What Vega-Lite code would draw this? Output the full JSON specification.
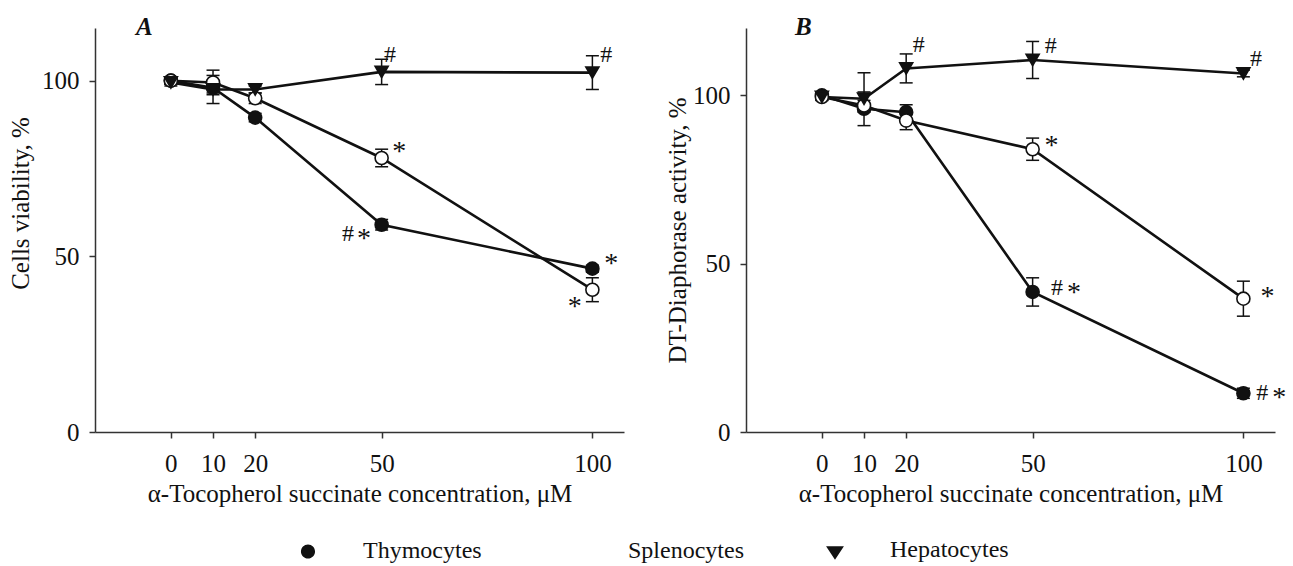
{
  "$schema": "https://vega.github.io/schema/vega-lite/v6.json",
  "padding": {"left": 8, "top": 15, "right": 5, "bottom": 0},
  "background": "white",
  "config": {
    "font": "Liberation Serif",
    "view": {"stroke": null},
    "axis": {
      "grid": false,
      "domainColor": "#333",
      "domainWidth": 1.5,
      "tickColor": "#333",
      "tickWidth": 1.5,
      "tickSize": 6,
      "labelFont": "Liberation Serif",
      "labelFontSize": 25,
      "labelColor": "#111",
      "labelPadding": 10,
      "titleFont": "Liberation Serif",
      "titleFontSize": 25,
      "titleFontWeight": "normal",
      "titleColor": "#111"
    },
    "legend": {
      "title": null,
      "orient": "none",
      "direction": "horizontal",
      "legendX": 188,
      "legendY": 497,
      "symbolSize": 2209,
      "symbolStrokeWidth": 2.5,
      "symbolStrokeColor": "#111",
      "labelFont": "Liberation Serif",
      "labelFontSize": 24,
      "labelColor": "#111",
      "labelOffset": 30,
      "columnPadding": 62,
      "labelLimit": 300
    },
    "title": {
      "font": "Liberation Serif",
      "fontSize": 25,
      "fontStyle": "italic",
      "fontWeight": "bold",
      "color": "#111",
      "anchor": "start",
      "frame": "group",
      "baseline": "alphabetic",
      "offset": 0
    }
  },
  "datasets": {
    "pts": [
      {"panel": "A", "cell": "Thymocytes", "conc": 0, "mean": 100, "lo": 99, "hi": 101},
      {"panel": "A", "cell": "Thymocytes", "conc": 10, "mean": 98, "lo": 96.5, "hi": 99.5},
      {"panel": "A", "cell": "Thymocytes", "conc": 20, "mean": 89.5, "lo": 88.3, "hi": 90.7},
      {"panel": "A", "cell": "Thymocytes", "conc": 50, "mean": 59, "lo": 57.5, "hi": 60.5},
      {"panel": "A", "cell": "Thymocytes", "conc": 100, "mean": 46.5, "lo": 45.5, "hi": 47.5},
      {"panel": "A", "cell": "Splenocytes", "conc": 0, "mean": 100, "lo": 99, "hi": 101},
      {"panel": "A", "cell": "Splenocytes", "conc": 10, "mean": 99.5, "lo": 96, "hi": 103},
      {"panel": "A", "cell": "Splenocytes", "conc": 20, "mean": 95, "lo": 93.5, "hi": 96.5},
      {"panel": "A", "cell": "Splenocytes", "conc": 50, "mean": 78, "lo": 75.5, "hi": 80.5},
      {"panel": "A", "cell": "Splenocytes", "conc": 100, "mean": 40.5, "lo": 37.1, "hi": 43.9},
      {"panel": "A", "cell": "Hepatocytes", "conc": 0, "mean": 99.5, "lo": 98.5, "hi": 100.5},
      {"panel": "A", "cell": "Hepatocytes", "conc": 10, "mean": 97.5, "lo": 93.5, "hi": 101.5},
      {"panel": "A", "cell": "Hepatocytes", "conc": 20, "mean": 97.5, "lo": 96.5, "hi": 98.5},
      {"panel": "A", "cell": "Hepatocytes", "conc": 50, "mean": 102.5, "lo": 98.9, "hi": 106.1},
      {"panel": "A", "cell": "Hepatocytes", "conc": 100, "mean": 102.3, "lo": 97.5, "hi": 107.1},
      {"panel": "B", "cell": "Thymocytes", "conc": 0, "mean": 100, "lo": 99, "hi": 101},
      {"panel": "B", "cell": "Thymocytes", "conc": 10, "mean": 96, "lo": 91, "hi": 101},
      {"panel": "B", "cell": "Thymocytes", "conc": 20, "mean": 95, "lo": 92.8, "hi": 97.2},
      {"panel": "B", "cell": "Thymocytes", "conc": 50, "mean": 41.6, "lo": 37.4, "hi": 45.8},
      {"panel": "B", "cell": "Thymocytes", "conc": 100, "mean": 11.5, "lo": 10, "hi": 13},
      {"panel": "B", "cell": "Splenocytes", "conc": 0, "mean": 99.5, "lo": 98.5, "hi": 100.5},
      {"panel": "B", "cell": "Splenocytes", "conc": 10, "mean": 97, "lo": 95.5, "hi": 98.5},
      {"panel": "B", "cell": "Splenocytes", "conc": 20, "mean": 92.5, "lo": 89.8, "hi": 95.2},
      {"panel": "B", "cell": "Splenocytes", "conc": 50, "mean": 84, "lo": 80.7, "hi": 87.3},
      {"panel": "B", "cell": "Splenocytes", "conc": 100, "mean": 39.6, "lo": 34.4, "hi": 44.8},
      {"panel": "B", "cell": "Hepatocytes", "conc": 0, "mean": 99.5, "lo": 98.5, "hi": 100.5},
      {"panel": "B", "cell": "Hepatocytes", "conc": 10, "mean": 99, "lo": 95, "hi": 106.7},
      {"panel": "B", "cell": "Hepatocytes", "conc": 20, "mean": 108, "lo": 103.7, "hi": 112.3},
      {"panel": "B", "cell": "Hepatocytes", "conc": 50, "mean": 110.5, "lo": 105, "hi": 116},
      {"panel": "B", "cell": "Hepatocytes", "conc": 100, "mean": 106.5, "lo": 105.5, "hi": 107.5}
    ],
    "ann": [
      {"panel": "A", "conc": 52.0, "val": 107.2, "label": "#"},
      {"panel": "A", "conc": 103.3, "val": 107.2, "label": "#"},
      {"panel": "A", "conc": 42.0, "val": 56.3, "label": "#"},
      {"panel": "A", "conc": 54.2, "val": 79.6, "label": "*"},
      {"panel": "A", "conc": 45.8, "val": 55.0, "label": "*"},
      {"panel": "A", "conc": 104.5, "val": 47.8, "label": "*"},
      {"panel": "A", "conc": 95.8, "val": 35.6, "label": "*"},
      {"panel": "B", "conc": 23.0, "val": 114.9, "label": "#"},
      {"panel": "B", "conc": 54.3, "val": 114.7, "label": "#"},
      {"panel": "B", "conc": 103.0, "val": 110.7, "label": "#"},
      {"panel": "B", "conc": 55.8, "val": 42.7, "label": "#"},
      {"panel": "B", "conc": 104.5, "val": 11.7, "label": "#"},
      {"panel": "B", "conc": 54.5, "val": 85.0, "label": "*"},
      {"panel": "B", "conc": 59.8, "val": 41.2, "label": "*"},
      {"panel": "B", "conc": 105.7, "val": 40.2, "label": "*"},
      {"panel": "B", "conc": 108.5, "val": 10.2, "label": "*"}
    ]
  },
  "spacing": 41,
  "resolve": {"scale": {"fill": "shared", "shape": "shared"}},
  "hconcat": [
    {
      "width": 529,
      "height": 404,
      "title": {"text": "A", "dx": 41, "dy": 16},
      "layer": [
        {
          "data": {"name": "pts"},
          "transform": [{"filter": "datum.panel === 'A'"}],
          "mark": {"type": "line", "color": "#111", "strokeWidth": 2.6},
          "encoding": {
            "x": {"field": "conc", "type": "quantitative", "scale": {"domain": [-18, 107.5], "nice": false, "zero": false}, "axis": {"values": [0, 10, 20, 50, 100], "title": "α-Tocopherol succinate concentration, μM", "titlePadding": 5, "labelPadding": 13}},
            "y": {"field": "mean", "type": "quantitative", "scale": {"domain": [0, 115], "nice": false}, "axis": {"values": [0, 50, 100], "title": "Cells viability, %", "titlePadding": 8, "titleY": 175}},
            "detail": {"field": "cell"}
          }
        },
        {
          "data": {"name": "pts"},
          "transform": [{"filter": "datum.panel === 'A'"}],
          "mark": {"type": "rule", "color": "#111", "strokeWidth": 1.5},
          "encoding": {
            "x": {"field": "conc", "type": "quantitative"},
            "y": {"field": "lo", "type": "quantitative", "title": "Cells viability, %"},
            "y2": {"field": "hi"}
          }
        },
        {
          "data": {"name": "pts"},
          "transform": [{"filter": "datum.panel === 'A'"}],
          "mark": {"type": "tick", "orient": "horizontal", "size": 13, "thickness": 1.5, "color": "#111", "opacity": 1},
          "encoding": {
            "x": {"field": "conc", "type": "quantitative"},
            "y": {"field": "lo", "type": "quantitative", "title": "Cells viability, %"}
          }
        },
        {
          "data": {"name": "pts"},
          "transform": [{"filter": "datum.panel === 'A'"}],
          "mark": {"type": "tick", "orient": "horizontal", "size": 13, "thickness": 1.5, "color": "#111", "opacity": 1},
          "encoding": {
            "x": {"field": "conc", "type": "quantitative"},
            "y": {"field": "hi", "type": "quantitative", "title": "Cells viability, %"}
          }
        },
        {
          "data": {"name": "pts"},
          "transform": [{"filter": "datum.panel === 'legend-only'"}],
          "mark": {"type": "point", "stroke": "#111", "strokeWidth": 2.5, "size": 2209, "opacity": 1, "filled": true},
          "encoding": {
            "x": {"field": "conc", "type": "quantitative"},
            "y": {"field": "mean", "type": "quantitative", "title": "Cells viability, %"},
            "fill": {
              "field": "cell", "type": "nominal",
              "scale": {"domain": ["Thymocytes", "Splenocytes", "Hepatocytes"], "range": ["#111", "#ffffff", "#111"]}
            },
            "shape": {
              "field": "cell", "type": "nominal",
              "scale": {
                "domain": ["Thymocytes", "Splenocytes", "Hepatocytes"],
                "range": [
                  "M-1,0L-0.3,0M0.3,0L1,0M-0.3,0A0.3,0.3,0,1,0,0.3,0A0.3,0.3,0,1,0,-0.3,0Z",
                  "M-1,0L-0.3,0M0.3,0L1,0M-0.3,0A0.3,0.3,0,1,0,0.3,0A0.3,0.3,0,1,0,-0.3,0Z",
                  "M-1,0L1,0M-0.38,-0.17L0.38,-0.17L0,0.4Z"
                ]
              }
            }
          }
        },
        {
          "data": {"name": "pts"},
          "transform": [{"filter": "datum.panel === 'A' && datum.cell !== 'Hepatocytes'"}],
          "mark": {"type": "point", "shape": "circle", "stroke": "#111", "strokeWidth": 1.6, "size": 170, "opacity": 1, "filled": true},
          "encoding": {
            "x": {"field": "conc", "type": "quantitative"},
            "y": {"field": "mean", "type": "quantitative", "title": "Cells viability, %"},
            "fill": {"field": "cell", "type": "nominal"}
          }
        },
        {
          "data": {"name": "pts"},
          "transform": [{"filter": "datum.panel === 'A' && datum.cell === 'Hepatocytes'"}],
          "mark": {"type": "point", "shape": "triangle-down", "stroke": "#111", "strokeWidth": 1.6, "size": 170, "opacity": 1, "filled": true},
          "encoding": {
            "x": {"field": "conc", "type": "quantitative"},
            "y": {"field": "mean", "type": "quantitative", "title": "Cells viability, %"},
            "fill": {"field": "cell", "type": "nominal"}
          }
        },
        {
          "data": {"name": "ann"},
          "transform": [{"filter": "datum.panel === 'A' && datum.label === '#'"}],
          "mark": {"type": "text", "font": "Liberation Serif", "fontSize": 24, "color": "#111", "align": "center", "baseline": "middle"},
          "encoding": {
            "x": {"field": "conc", "type": "quantitative"},
            "y": {"field": "val", "type": "quantitative", "title": "Cells viability, %"},
            "text": {"field": "label"}
          }
        },
        {
          "data": {"name": "ann"},
          "transform": [{"filter": "datum.panel === 'A' && datum.label === '*'"}],
          "mark": {"type": "text", "font": "Liberation Serif", "fontSize": 28, "color": "#111", "align": "center", "baseline": "middle"},
          "encoding": {
            "x": {"field": "conc", "type": "quantitative"},
            "y": {"field": "val", "type": "quantitative", "title": "Cells viability, %"},
            "text": {"field": "label"}
          }
        }
      ]
    },
    {
      "width": 529,
      "height": 404,
      "title": {"text": "B", "dx": 49, "dy": 16},
      "layer": [
        {
          "data": {"name": "pts"},
          "transform": [{"filter": "datum.panel === 'B'"}],
          "mark": {"type": "line", "color": "#111", "strokeWidth": 2.6},
          "encoding": {
            "x": {"field": "conc", "type": "quantitative", "scale": {"domain": [-18, 107.5], "nice": false, "zero": false}, "axis": {"values": [0, 10, 20, 50, 100], "title": "α-Tocopherol succinate concentration, μM", "titlePadding": 5, "labelPadding": 13}},
            "y": {"field": "mean", "type": "quantitative", "scale": {"domain": [0, 120], "nice": false}, "axis": {"values": [0, 50, 100], "title": "DT-Diaphorase activity, %", "titlePadding": 2}},
            "detail": {"field": "cell"}
          }
        },
        {
          "data": {"name": "pts"},
          "transform": [{"filter": "datum.panel === 'B'"}],
          "mark": {"type": "rule", "color": "#111", "strokeWidth": 1.5},
          "encoding": {
            "x": {"field": "conc", "type": "quantitative"},
            "y": {"field": "lo", "type": "quantitative", "title": "DT-Diaphorase activity, %"},
            "y2": {"field": "hi"}
          }
        },
        {
          "data": {"name": "pts"},
          "transform": [{"filter": "datum.panel === 'B'"}],
          "mark": {"type": "tick", "orient": "horizontal", "size": 13, "thickness": 1.5, "color": "#111", "opacity": 1},
          "encoding": {
            "x": {"field": "conc", "type": "quantitative"},
            "y": {"field": "lo", "type": "quantitative", "title": "DT-Diaphorase activity, %"}
          }
        },
        {
          "data": {"name": "pts"},
          "transform": [{"filter": "datum.panel === 'B'"}],
          "mark": {"type": "tick", "orient": "horizontal", "size": 13, "thickness": 1.5, "color": "#111", "opacity": 1},
          "encoding": {
            "x": {"field": "conc", "type": "quantitative"},
            "y": {"field": "hi", "type": "quantitative", "title": "DT-Diaphorase activity, %"}
          }
        },
        {
          "data": {"name": "pts"},
          "transform": [{"filter": "datum.panel === 'B' && datum.cell !== 'Hepatocytes'"}],
          "mark": {"type": "point", "shape": "circle", "stroke": "#111", "strokeWidth": 1.6, "size": 170, "opacity": 1, "filled": true},
          "encoding": {
            "x": {"field": "conc", "type": "quantitative"},
            "y": {"field": "mean", "type": "quantitative", "title": "DT-Diaphorase activity, %"},
            "fill": {"field": "cell", "type": "nominal"}
          }
        },
        {
          "data": {"name": "pts"},
          "transform": [{"filter": "datum.panel === 'B' && datum.cell === 'Hepatocytes'"}],
          "mark": {"type": "point", "shape": "triangle-down", "stroke": "#111", "strokeWidth": 1.6, "size": 170, "opacity": 1, "filled": true},
          "encoding": {
            "x": {"field": "conc", "type": "quantitative"},
            "y": {"field": "mean", "type": "quantitative", "title": "DT-Diaphorase activity, %"},
            "fill": {"field": "cell", "type": "nominal"}
          }
        },
        {
          "data": {"name": "ann"},
          "transform": [{"filter": "datum.panel === 'B' && datum.label === '#'"}],
          "mark": {"type": "text", "font": "Liberation Serif", "fontSize": 24, "color": "#111", "align": "center", "baseline": "middle"},
          "encoding": {
            "x": {"field": "conc", "type": "quantitative"},
            "y": {"field": "val", "type": "quantitative", "title": "DT-Diaphorase activity, %"},
            "text": {"field": "label"}
          }
        },
        {
          "data": {"name": "ann"},
          "transform": [{"filter": "datum.panel === 'B' && datum.label === '*'"}],
          "mark": {"type": "text", "font": "Liberation Serif", "fontSize": 28, "color": "#111", "align": "center", "baseline": "middle"},
          "encoding": {
            "x": {"field": "conc", "type": "quantitative"},
            "y": {"field": "val", "type": "quantitative", "title": "DT-Diaphorase activity, %"},
            "text": {"field": "label"}
          }
        }
      ]
    }
  ]
}
